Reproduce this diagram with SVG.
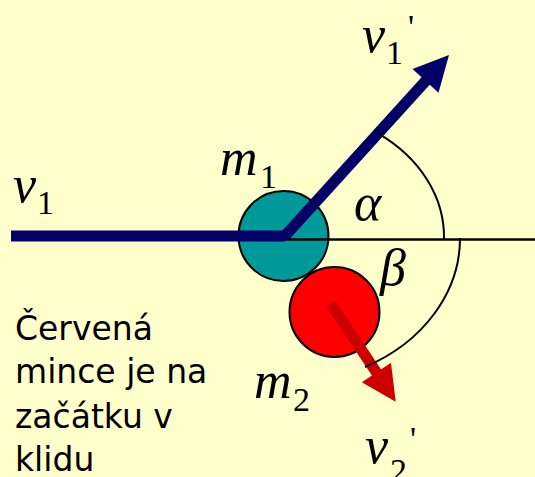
<svg xmlns="http://www.w3.org/2000/svg" width="535" height="477" viewBox="0 0 535 477">
<style>
.math{font-family:"Liberation Serif","Times New Roman",serif;font-style:italic;font-size:52px;fill:#000}
.sub{font-style:normal;font-size:34px}
.prime{font-family:"Liberation Serif",serif;font-size:34px;fill:#000}
.note{font-family:"Comic Sans MS","DejaVu Sans",sans-serif;font-size:33px;fill:#000}
.arc{fill:none;stroke:#000;stroke-width:2}
.coin{stroke:#000;stroke-width:2}
</style>
<rect x="0" y="0" width="535" height="477" fill="#FFFFCC"/>
<g id="coin-m1"><circle class="coin" cx="283.5" cy="236" r="45" fill="#009999"/></g>
<g id="coin-m2"><circle class="coin" cx="334.5" cy="312" r="45" fill="#FF0000"/></g>
<g id="connectors">
  <line x1="284" y1="239.5" x2="535" y2="239.5" stroke="#000" stroke-width="2.5"/>
  <line x1="11" y1="236" x2="285" y2="236" stroke="#000066" stroke-width="11"/>
  <line x1="284" y1="237" x2="427" y2="79.5" stroke="#000066" stroke-width="11"/>
  <polygon points="449,55 412.5,69.1 438.5,92.7" fill="#000066"/>
  <line x1="331" y1="304" x2="377.5" y2="374" stroke="#CC0000" stroke-width="11"/>
  <polygon points="395.7,401.7 391,362.8 361.8,382.2" fill="#CC0000"/>
  <path class="arc" d="M 378 133.3 A 160 128 0 0 1 444 239"/>
  <path class="arc" d="M 460 238 A 176 145 0 0 1 365 367"/>
</g>
<g id="label-v1"><text class="math" x="13" y="202">v<tspan class="sub" x="37" y="214">1</tspan></text></g>
<g id="label-m1"><text class="math" x="220" y="175">m<tspan class="sub" x="260" y="188">1</tspan></text></g>
<g id="label-alpha"><text class="math" x="354" y="220">α</text></g>
<g id="label-beta"><text class="math" x="380" y="285">β</text></g>
<g id="label-m2"><text class="math" x="254" y="398">m<tspan class="sub" x="293" y="411">2</tspan></text></g>
<g id="label-v1p"><text class="math" x="362" y="52">v<tspan class="sub" x="386" y="64">1</tspan></text><text class="prime" x="408" y="38">'</text></g>
<g id="label-v2p"><text class="math" x="365" y="463">v<tspan class="sub" x="390" y="482">2</tspan></text><text class="prime" x="410" y="450">'</text></g>
<g id="note">
  <text class="note" x="15" y="340">Červená</text>
  <text class="note" x="15" y="383">mince je na</text>
  <text class="note" x="15" y="428">začátku v</text>
  <text class="note" x="15" y="471">klidu</text>
</g>
</svg>
